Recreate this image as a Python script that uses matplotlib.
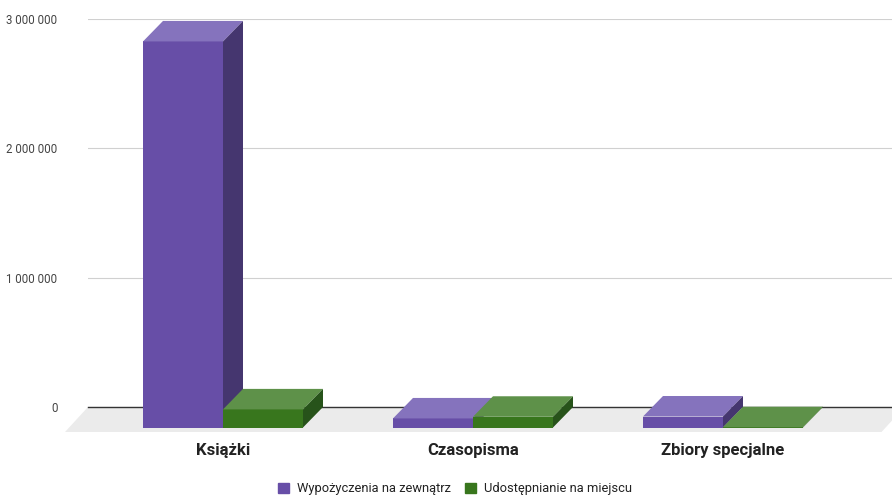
import matplotlib.pyplot as plt
from matplotlib.patches import Polygon, Patch
from matplotlib.ticker import FuncFormatter

plt.rcParams['font.family'] = ['Roboto', 'DejaVu Sans']

categories = ["Książki", "Czasopisma", "Zbiory specjalne"]
wypozyczenia = [2985000, 70000, 85000]
udostepnianie = [140000, 83000, 2000]
series_names = ["Wypożyczenia na zewnątrz", "Udostępnianie na miejscu"]

# front / top / side shades for each series
purple = ("#674ea7", "#8573bd", "#45366f")
green = ("#38761d", "#5e9149", "#27531a")

W, H = 892, 495
fig = plt.figure(figsize=(W / 100, H / 100), dpi=100)
# axes box = back plane of the 3d chart
ax = fig.add_axes([88 / W, (H - 407) / H, 1 - 88 / W, (407 - 19) / H])
xmin, xmax = -0.62, 2.596
ymax = 3000000
ax.set_xlim(xmin, xmax)
ax.set_ylim(0, ymax)

# depth of the boxes, given in pixels, turned into data units
px_x = (W - 88) / (xmax - xmin)
px_y = (407 - 19) / ymax
dx = 20 / px_x
dy = 20.5 / px_y
bar_w = 0.32

for s in ax.spines.values():
    s.set_visible(False)
ax.set_yticks([0, 1000000, 2000000, 3000000])
ax.yaxis.set_major_formatter(FuncFormatter(lambda v, p: f"{int(v):,}".replace(",", " ")))
ax.tick_params(axis='y', length=0, pad=22, labelsize=8.3, labelcolor="#444444")
ax.yaxis.grid(True, color="#d0d0d0", linewidth=0.8)
ax.set_axisbelow(True)

# floor
fdx, fdy = 23 / px_x, 25 / px_y
floor = Polygon([(xmin, 0), (xmax + 0.05, 0), (xmax + 0.05 - fdx, -fdy), (xmin - fdx, -fdy)],
                closed=True, facecolor="#ebebeb", edgecolor="none", clip_on=False, zorder=1)
ax.add_patch(floor)
ax.axhline(0, color="#333333", linewidth=1.0, zorder=2, clip_on=False)


def box(x0, v, cols):
    x1 = x0 + bar_w
    ax.bar(x0 - dx, v, width=bar_w, bottom=-dy, align='edge', color=cols[0],
           clip_on=False, zorder=3)
    top = Polygon([(x0 - dx, v - dy), (x1 - dx, v - dy), (x1, v), (x0, v)],
                  closed=True, facecolor=cols[1], edgecolor="none", clip_on=False, zorder=3)
    side = Polygon([(x1 - dx, -dy), (x1, 0), (x1, v), (x1 - dx, v - dy)],
                   closed=True, facecolor=cols[2], edgecolor="none", clip_on=False, zorder=3)
    ax.add_patch(top)
    ax.add_patch(side)


for i in range(len(categories)):
    box(i - bar_w, wypozyczenia[i], purple)
    box(i, udostepnianie[i], green)

ax.set_xticks([i - dx for i in range(len(categories))])
ax.set_xticklabels(categories, fontsize=12, fontweight='bold', color="#222222")
ax.tick_params(axis='x', length=0, pad=26)

handles = [Patch(color=purple[0]), Patch(color=green[0])]
fig.legend(handles, series_names, loc='lower center', bbox_to_anchor=(0.51, -0.024), ncol=2,
           frameon=False, fontsize=9.3, handlelength=0.85, handleheight=0.85,
           handletextpad=0.6, columnspacing=1.1, labelcolor="#222222")

fig.savefig("out.png", dpi=100)
